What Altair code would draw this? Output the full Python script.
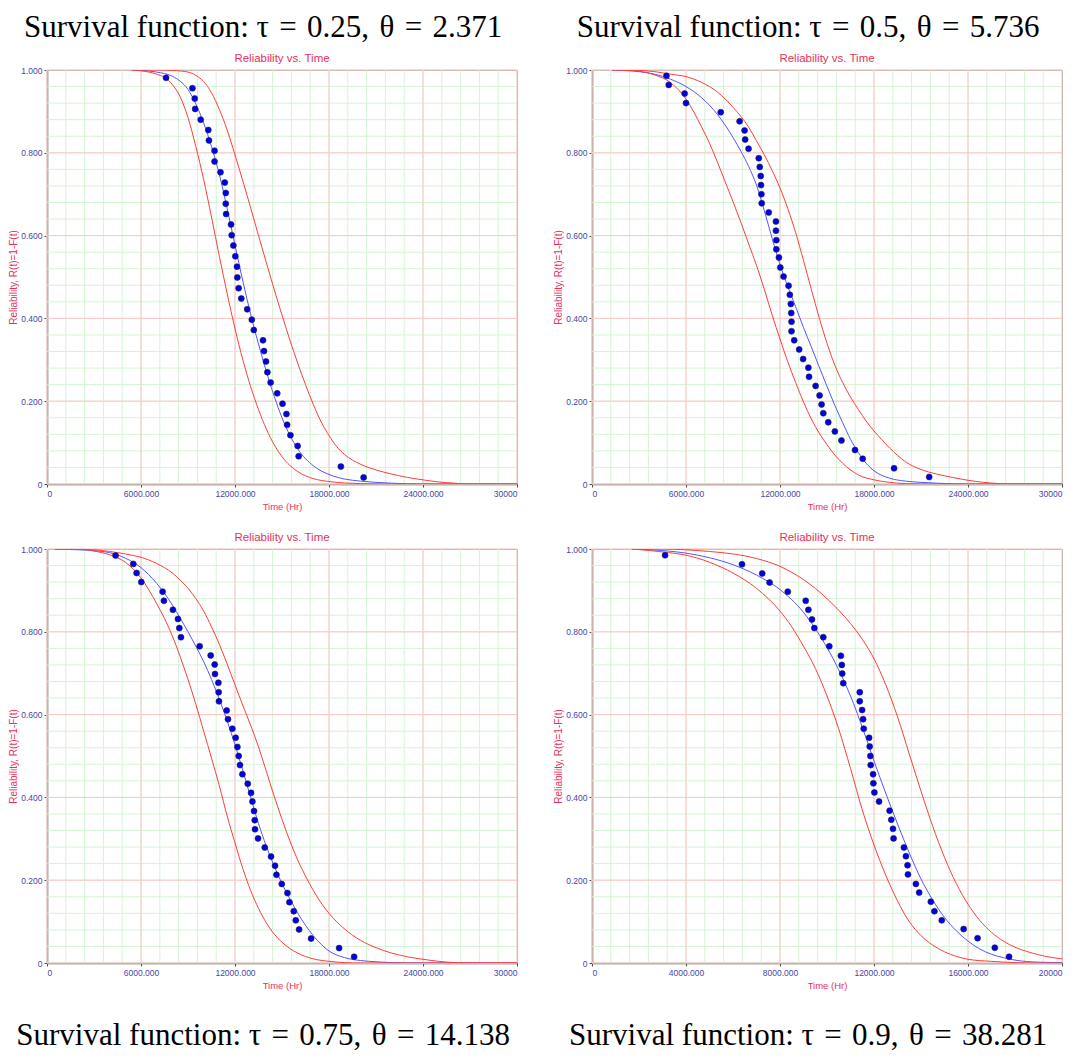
import altair as alt
import pandas as pd

# ---------------- data ----------------
# Panel 1: tau = 0.25
p1_t = [7598, 9284, 9432, 9453, 9811, 10295, 10337, 10695, 10695, 11074, 11347, 11411, 11411, 11432,
        11747, 11789, 11895, 12021, 12126, 12147, 12232, 12400, 12779, 13074, 13200, 13789, 13853,
        13979, 14067, 14274, 14695, 15032, 15284, 15326, 15537, 15998, 16063, 18758, 20211]
p1_r = [0.981, 0.956, 0.931, 0.906, 0.880, 0.855, 0.830, 0.805, 0.779, 0.753, 0.728, 0.703, 0.677,
        0.652, 0.627, 0.601, 0.576, 0.550, 0.525, 0.499, 0.473, 0.448, 0.422, 0.397, 0.372, 0.347,
        0.321, 0.296, 0.270, 0.245, 0.219, 0.194, 0.169, 0.143, 0.118, 0.092, 0.067, 0.042, 0.016]
b1_t = [5400, 6000, 7000, 8000, 8500, 9000, 9500, 10000, 10500, 11000, 11500, 12000, 12500, 13000,
        13500, 14000, 14500, 15000, 15500, 16000, 17000, 18000, 19000, 20000, 22000, 24000, 30000]
b1_r = [1.0, 0.999, 0.995, 0.985, 0.973, 0.953, 0.918, 0.872, 0.815, 0.748, 0.665, 0.577, 0.490,
        0.410, 0.338, 0.272, 0.212, 0.160, 0.118, 0.085, 0.044, 0.023, 0.012, 0.007, 0.002, 0.0, 0.0]
lo1_t = [5400, 6000, 7000, 7500, 8000, 8500, 9000, 9500, 10000, 10500, 11000, 11500, 12000, 12500,
         13000, 13500, 14000, 14500, 15000, 15500, 16000, 17000, 18000, 20000, 22000, 30000]
lo1_r = [1.0, 0.998, 0.990, 0.982, 0.965, 0.935, 0.885, 0.815, 0.735, 0.645, 0.550, 0.460, 0.375,
         0.300, 0.235, 0.180, 0.133, 0.095, 0.066, 0.045, 0.030, 0.013, 0.006, 0.001, 0.0, 0.0]
up1_t = [5400, 7000, 8000, 9000, 9500, 10000, 10500, 11000, 11500, 12000, 12500, 13000, 13500, 14000,
         14500, 15000, 15500, 16000, 16500, 17000, 17500, 18000, 18500, 19000, 20000, 21000, 22000,
         23000, 24000, 25000, 26000, 27000, 30000]
up1_r = [1.0, 1.0, 0.999, 0.995, 0.987, 0.972, 0.945, 0.905, 0.855, 0.795, 0.732, 0.667, 0.600, 0.535,
         0.470, 0.408, 0.348, 0.292, 0.240, 0.192, 0.150, 0.117, 0.090, 0.071, 0.048, 0.034, 0.024,
         0.016, 0.010, 0.005, 0.002, 0.0, 0.0]

# Panel 2: tau = 0.5
p2_t = [4752, 4899, 5913, 6000, 8218, 9421, 9738, 9776, 9992, 10644, 10708, 10771, 10790, 10816,
        10834, 11278, 11741, 11741, 11766, 11766, 11931, 12019, 12228, 12545, 12628, 12691, 12717,
        12736, 12736, 12906, 13223, 13476, 13812, 13855, 14273, 14527, 14654, 14763, 15079, 15501,
        15924, 16790, 17278, 19280, 21522]
p2_r = [0.986, 0.964, 0.943, 0.920, 0.898, 0.876, 0.854, 0.832, 0.810, 0.787, 0.766, 0.744, 0.722,
        0.700, 0.678, 0.656, 0.634, 0.612, 0.589, 0.567, 0.547, 0.523, 0.501, 0.479, 0.457, 0.435,
        0.413, 0.392, 0.369, 0.347, 0.325, 0.302, 0.281, 0.259, 0.237, 0.214, 0.192, 0.171, 0.149,
        0.127, 0.105, 0.082, 0.061, 0.038, 0.017]
b2_t = [1300, 2000, 3000, 4000, 5000, 6000, 7000, 8000, 8500, 9000, 9500, 10000, 10500, 11000, 11500,
        12000, 12500, 13000, 13500, 14000, 14500, 15000, 15500, 16000, 16500, 17000, 17500, 18000,
        19000, 20000, 21000, 22000, 24000, 30000]
b2_r = [1.0, 0.999, 0.996, 0.990, 0.978, 0.960, 0.933, 0.893, 0.867, 0.837, 0.804, 0.767, 0.722, 0.660,
        0.593, 0.530, 0.477, 0.428, 0.378, 0.331, 0.283, 0.236, 0.190, 0.148, 0.108, 0.076, 0.050,
        0.032, 0.014, 0.007, 0.004, 0.002, 0.0, 0.0]
lo2_t = [1300, 2000, 3000, 4000, 5000, 6000, 7000, 7500, 8000, 8500, 9000, 9500, 10000, 10500, 11000,
         11500, 12000, 12500, 13000, 13500, 14000, 14500, 15000, 15500, 16000, 17000, 18000, 19000,
         20000, 22000, 30000]
lo2_r = [1.0, 1.0, 0.997, 0.988, 0.970, 0.930, 0.862, 0.823, 0.778, 0.730, 0.682, 0.632, 0.580, 0.528,
         0.470, 0.408, 0.350, 0.295, 0.245, 0.198, 0.157, 0.123, 0.095, 0.070, 0.050, 0.022, 0.010,
         0.004, 0.001, 0.0, 0.0]
up2_t = [1300, 3000, 4000, 5000, 6000, 7000, 8000, 9000, 9500, 10000, 10500, 11000, 11500, 12000, 12500,
         13000, 13500, 14000, 14500, 15000, 15500, 16000, 16500, 17000, 17500, 18000, 18500, 19000,
         20000, 21000, 22000, 23000, 24000, 25000, 26000, 27000, 30000]
up2_r = [1.0, 0.999, 0.996, 0.990, 0.984, 0.970, 0.947, 0.910, 0.888, 0.862, 0.829, 0.795, 0.757,
         0.715, 0.665, 0.607, 0.540, 0.470, 0.402, 0.340, 0.287, 0.245, 0.210, 0.180, 0.152, 0.128,
         0.107, 0.087, 0.054, 0.035, 0.024, 0.016, 0.009, 0.004, 0.001, 0.0, 0.0]

# Panel 3: tau = 0.75
p3_t = [4377, 5508, 5719, 6019, 7380, 7463, 8038, 8358, 8447, 8550, 9744, 10447, 10703, 10722, 10939,
        10958, 10978, 11470, 11553, 11834, 12045, 12153, 12236, 12319, 12473, 12812, 13023, 13112,
        13214, 13259, 13278, 13470, 13898, 14300, 14556, 14645, 14984, 15348, 15476, 15751, 15879,
        16090, 16856, 18645, 19604]
p3_r = [0.984, 0.964, 0.942, 0.920, 0.897, 0.875, 0.853, 0.831, 0.809, 0.787, 0.765, 0.743, 0.721,
        0.698, 0.677, 0.654, 0.632, 0.610, 0.589, 0.566, 0.544, 0.522, 0.500, 0.478, 0.456, 0.433,
        0.411, 0.390, 0.367, 0.345, 0.323, 0.301, 0.279, 0.257, 0.235, 0.213, 0.191, 0.169, 0.147,
        0.125, 0.103, 0.081, 0.059, 0.036, 0.015]
b3_t = [500, 2000, 3000, 4000, 5000, 6000, 7000, 7500, 8000, 8500, 9000, 9500, 10000, 10500, 11000,
        11500, 12000, 12500, 13000, 13500, 14000, 14500, 15000, 15500, 16000, 16500, 17000, 17500,
        18000, 19000, 20000, 21000, 22000, 24000, 30000]
b3_r = [1.0, 0.998, 0.996, 0.991, 0.978, 0.955, 0.917, 0.893, 0.865, 0.833, 0.800, 0.765, 0.728, 0.685,
        0.637, 0.585, 0.527, 0.465, 0.400, 0.337, 0.282, 0.234, 0.192, 0.155, 0.121, 0.091, 0.066,
        0.045, 0.029, 0.013, 0.006, 0.003, 0.001, 0.0, 0.0]
lo3_t = [500, 2000, 3000, 4000, 5000, 6000, 7000, 7500, 8000, 8500, 9000, 9500, 10000, 10500, 11000,
         11500, 12000, 12500, 13000, 13500, 14000, 14500, 15000, 15500, 16000, 17000, 18000, 19000,
         20000, 30000]
lo3_r = [1.0, 1.0, 0.995, 0.986, 0.968, 0.930, 0.868, 0.832, 0.790, 0.740, 0.685, 0.625, 0.560, 0.495,
         0.428, 0.355, 0.290, 0.228, 0.175, 0.132, 0.097, 0.070, 0.050, 0.035, 0.024, 0.010, 0.004,
         0.001, 0.0, 0.0]
up3_t = [500, 3000, 4000, 5000, 6000, 7000, 8000, 8500, 9000, 9500, 10000, 10500, 11000, 11500, 12000,
         12500, 13000, 13500, 14000, 14500, 15000, 15500, 16000, 16500, 17000, 17500, 18000, 19000,
         20000, 21000, 22000, 23000, 24000, 25000, 26000, 27000, 30000]
up3_r = [1.0, 0.998, 0.994, 0.988, 0.980, 0.965, 0.942, 0.925, 0.905, 0.880, 0.850, 0.812, 0.770,
         0.722, 0.672, 0.622, 0.574, 0.522, 0.463, 0.403, 0.347, 0.295, 0.249, 0.210, 0.175, 0.145,
         0.120, 0.082, 0.055, 0.037, 0.024, 0.015, 0.009, 0.004, 0.001, 0.0, 0.0]

# Panel 4: tau = 0.9
p4_t = [3109, 6383, 7243, 7556, 8331, 9094, 9208, 9361, 9462, 9843, 10097, 10589, 10631, 10648, 10691,
        11394, 11394, 11495, 11537, 11563, 11792, 11817, 11847, 11859, 11961, 11974, 12016, 12215,
        12664, 12736, 12808, 12833, 13274, 13359, 13427, 13444, 13782, 13922, 14418, 14570, 14884,
        15815, 16408, 17141, 17747]
p4_r = [0.985, 0.963, 0.941, 0.919, 0.897, 0.875, 0.853, 0.830, 0.809, 0.787, 0.765, 0.742, 0.720,
        0.699, 0.676, 0.654, 0.632, 0.611, 0.589, 0.566, 0.544, 0.523, 0.500, 0.478, 0.456, 0.434,
        0.412, 0.390, 0.368, 0.346, 0.324, 0.301, 0.279, 0.258, 0.236, 0.214, 0.191, 0.170, 0.148,
        0.125, 0.103, 0.082, 0.060, 0.037, 0.015]
b4_t = [1700, 2500, 4000, 5000, 6000, 7000, 8000, 9000, 9500, 10000, 10500, 11000, 11500, 12000,
        12500, 13000, 13500, 14000, 14500, 15000, 15500, 16000, 16500, 17000, 17500, 18000, 19000, 20000]
b4_r = [1.0, 0.998, 0.990, 0.979, 0.962, 0.937, 0.902, 0.847, 0.808, 0.762, 0.708, 0.645, 0.570,
        0.488, 0.410, 0.336, 0.266, 0.203, 0.152, 0.110, 0.078, 0.053, 0.034, 0.021, 0.013, 0.007,
        0.002, 0.001]
lo4_t = [1700, 2500, 3000, 4000, 5000, 6000, 7000, 8000, 8500, 9000, 9500, 10000, 10500, 11000,
         11500, 12000, 12500, 13000, 13500, 14000, 14500, 15000, 15500, 16000, 17000, 18000, 19000, 20000]
lo4_r = [1.0, 0.996, 0.993, 0.985, 0.968, 0.942, 0.905, 0.850, 0.812, 0.765, 0.712, 0.645, 0.565,
         0.470, 0.370, 0.285, 0.212, 0.150, 0.100, 0.066, 0.043, 0.027, 0.016, 0.009, 0.004, 0.001,
         0.0, 0.0]
up4_t = [1700, 3000, 4000, 5000, 6000, 7000, 8000, 9000, 9500, 10000, 10500, 11000, 11500, 12000, 12500,
         13000, 13500, 14000, 14500, 15000, 15500, 16000, 16500, 17000, 17500, 18000, 18500, 19000,
         19500, 20000]
up4_r = [1.0, 1.0, 0.998, 0.994, 0.988, 0.977, 0.958, 0.926, 0.905, 0.880, 0.852, 0.820, 0.782, 0.735,
         0.672, 0.595, 0.505, 0.415, 0.330, 0.255, 0.192, 0.142, 0.103, 0.074, 0.053, 0.038, 0.028,
         0.020, 0.014, 0.010]

# Axis ticks
major_30k = [0, 6000, 12000, 18000, 24000, 30000]
minor_30k = [i * 1200 for i in range(26)]
major_20k = [0, 4000, 8000, 12000, 16000, 20000]
minor_20k = [i * 800 for i in range(26)]
major_y = [0, 0.2, 0.4, 0.6, 0.8, 1.0]
minor_y = [i * 0.04 for i in range(26)]

EQ = "\u2004=\u2004"
captions = [
    "Survival function: \u03c4" + EQ + "0.25,\u2004\u03b8" + EQ + "2.371",
    "Survival function: \u03c4" + EQ + "0.5,\u2004\u03b8" + EQ + "5.736",
    "Survival function: \u03c4" + EQ + "0.75,\u2004\u03b8" + EQ + "14.138",
    "Survival function: \u03c4" + EQ + "0.9,\u2004\u03b8" + EQ + "38.281",
]

# ---------------- styling ----------------
W, H = 470, 414
LABEL_COLOR = "#4646a6"
TITLE_COLOR = "#e8305c"
MAJOR_GRID = "#ffc6c6"
MINOR_GRID = "#d4f4d4"
RED = "#ff3c3c"
BLUE = "#5555ff"
SANS = "Liberation Sans"
SERIF = "Liberation Serif"


def make_panel(pt_t, pt_r, b_t, b_r, lo_t, lo_r, up_t, up_r, xmax, xmajor, xminor, caption, orient):
    xs = alt.Scale(domain=[0, xmax], nice=False, zero=False)
    ys = alt.Scale(domain=[0, 1], nice=False, zero=False)
    xaxis = alt.Axis(
        values=xmajor,
        labelExpr=f"datum.value == 0 ? '0' : (datum.value == {xmax} ? '{xmax}' : format(datum.value, '.3f'))",
        title="Time (Hr)", grid=False, labelOverlap=False, labelFlush=True,
        titleFontSize=9.5, titlePadding=4,
    )
    yaxis = alt.Axis(
        values=major_y,
        labelExpr="datum.value == 0 ? '0' : format(datum.value, '.3f')",
        title="Reliability, R(t)=1-F(t)", grid=False, labelOverlap=False,
        titleFontSize=10, titlePadding=2,
    )

    def vrules(vals, color):
        return alt.Chart(pd.DataFrame({"t": vals})).mark_rule(color=color, strokeWidth=1).encode(
            x=alt.X("t:Q", scale=xs, axis=xaxis))

    def hrules(vals, color):
        return alt.Chart(pd.DataFrame({"r": vals})).mark_rule(color=color, strokeWidth=1).encode(
            y=alt.Y("r:Q", scale=ys, axis=yaxis))

    def curve(ts, rs, color):
        return alt.Chart(pd.DataFrame({"t": ts, "r": rs})).mark_line(
            color=color, strokeWidth=1, interpolate="monotone", clip=True).encode(
            x=alt.X("t:Q", scale=xs, axis=xaxis), y=alt.Y("r:Q", scale=ys, axis=yaxis))

    pts = alt.Chart(pd.DataFrame({"t": pt_t, "r": pt_r})).mark_circle(
        color="#0000e8", opacity=1, size=36, stroke="#222244", strokeWidth=0.6).encode(
        x=alt.X("t:Q", scale=xs, axis=xaxis), y=alt.Y("r:Q", scale=ys, axis=yaxis))

    layer = alt.layer(
        vrules(xminor, MINOR_GRID), hrules(minor_y, MINOR_GRID),
        vrules(xmajor, MAJOR_GRID), hrules(major_y, MAJOR_GRID),
        curve(b_t, b_r, BLUE), curve(lo_t, lo_r, RED), curve(up_t, up_r, RED),
        pts,
    ).properties(
        width=W, height=H,
        title=alt.TitleParams("Reliability vs. Time", font=SANS, fontSize=11.5, color=TITLE_COLOR,
                              fontWeight="normal", offset=2, anchor="middle"),
    )
    return alt.vconcat(
        layer,
        title=alt.TitleParams(caption, orient=orient, font=SERIF, fontSize=31, fontWeight="normal",
                              color="black", anchor="middle", frame="bounds",
                              offset=8 if orient == "top" else 30),
    )


c1 = make_panel(p1_t, p1_r, b1_t, b1_r, lo1_t, lo1_r, up1_t, up1_r, 30000, major_30k, minor_30k, captions[0], "top")
c2 = make_panel(p2_t, p2_r, b2_t, b2_r, lo2_t, lo2_r, up2_t, up2_r, 30000, major_30k, minor_30k, captions[1], "top")
c3 = make_panel(p3_t, p3_r, b3_t, b3_r, lo3_t, lo3_r, up3_t, up3_r, 30000, major_30k, minor_30k, captions[2], "bottom")
c4 = make_panel(p4_t, p4_r, b4_t, b4_r, lo4_t, lo4_r, up4_t, up4_r, 20000, major_20k, minor_20k, captions[3], "bottom")

chart = alt.vconcat(
    alt.hconcat(c1, c2, spacing=35),
    alt.hconcat(c3, c4, spacing=35),
    spacing=19,
).properties(
    padding={"left": 0, "top": 4, "right": 0, "bottom": 0}
).configure_view(
    stroke="#707070", strokeWidth=1
).configure_axis(
    labelFont=SANS, labelFontSize=8.5, labelColor=LABEL_COLOR, labelPadding=2,
    titleFont=SANS, titleFontWeight="normal", titleColor=TITLE_COLOR,
    domainColor="#505050", domainWidth=1.5, tickColor="#505050", tickSize=3, tickWidth=1,
)

chart.save("out.html", embed_options={"renderer": "svg", "actions": False})
